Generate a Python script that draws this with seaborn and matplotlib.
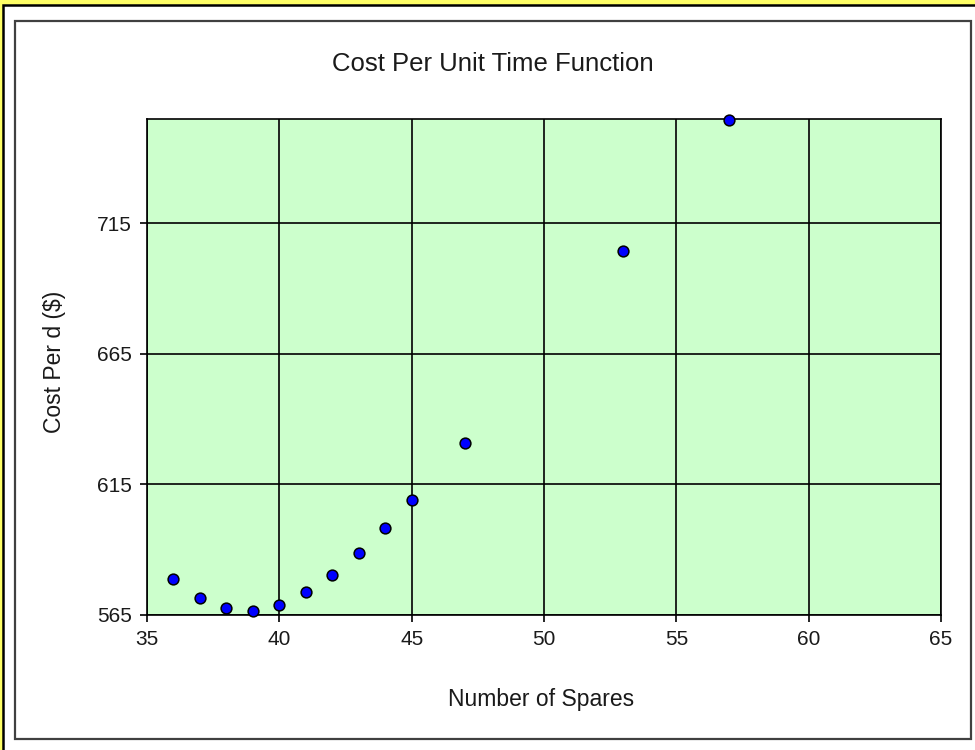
import matplotlib
matplotlib.use("Agg")
import matplotlib.pyplot as plt
import matplotlib.patches as patches
import seaborn as sns
import pandas as pd

# data
spares = [36, 37, 38, 39, 40, 41, 42, 43, 44, 45, 47, 53, 57]
cost = [578.8, 571.5, 567.7, 566.5, 568.8, 573.8, 580.3, 588.8, 598.4, 609.1, 631.0, 704.6, 754.5]
x_ticks = [35, 40, 45, 50, 55, 60, 65]
y_ticks = [565, 615, 665, 715]

df = pd.DataFrame({"spares": spares, "cost": cost})

sns.set_theme(style="ticks")
plt.rcParams['font.family'] = ['Liberation Sans', 'DejaVu Sans']

fig = plt.figure(figsize=(9.75, 7.5), dpi=100)
fig.patch.set_facecolor("#FFFF66")

W, H = 975.0, 750.0
# outer white panel with black line under the yellow strip
fig.patches.append(patches.Rectangle((3 / W, -0.05), 1.1, (745 / H) + 0.05,
                                     transform=fig.transFigure, facecolor="white",
                                     edgecolor="black", linewidth=1.8, zorder=-3))
# inner gray frame
fig.patches.append(patches.Rectangle((15 / W, (H - 739) / H), 956 / W, 718 / H,
                                     transform=fig.transFigure, facecolor="white",
                                     edgecolor="#404040", linewidth=1.6, zorder=-2))

ax = fig.add_axes([147 / W, (H - 615) / H, 794 / W, 496 / H])
ax.set_zorder(1)
ax.set_facecolor("#CCFFCC")
ax.set_axisbelow(True)

sns.scatterplot(data=df, x="spares", y="cost", ax=ax, color="#0000FF",
                edgecolor="black", linewidth=1.1, s=60, zorder=3, clip_on=False)

ax.set_xlim(35, 65)
ax.set_ylim(565, 755)
ax.set_xticks(x_ticks)
ax.set_yticks(y_ticks)
ax.grid(True, color="black", linewidth=1.2)
for sp in ax.spines.values():
    sp.set_color("black")
    sp.set_linewidth(1.2)
    sp.set_visible(True)
ax.tick_params(axis="both", direction="out", length=5, width=1.2, color="black",
               labelsize=15, pad=6, labelcolor="#1a1a1a")

ax.set_xlabel("Number of Spares", fontsize=16.5, color="#1a1a1a")
ax.set_ylabel("Cost Per d ($)", fontsize=16.5, color="#1a1a1a")
ax.xaxis.set_label_coords(0.496, -0.147)
ax.yaxis.set_label_coords(-0.102, 0.51)

fig.text(493 / W, 1 - 64 / H, "Cost Per Unit Time Function", fontsize=18.5,
         ha="center", va="center", color="#1a1a1a")

fig.savefig("out.png", dpi=100, facecolor=fig.get_facecolor())
